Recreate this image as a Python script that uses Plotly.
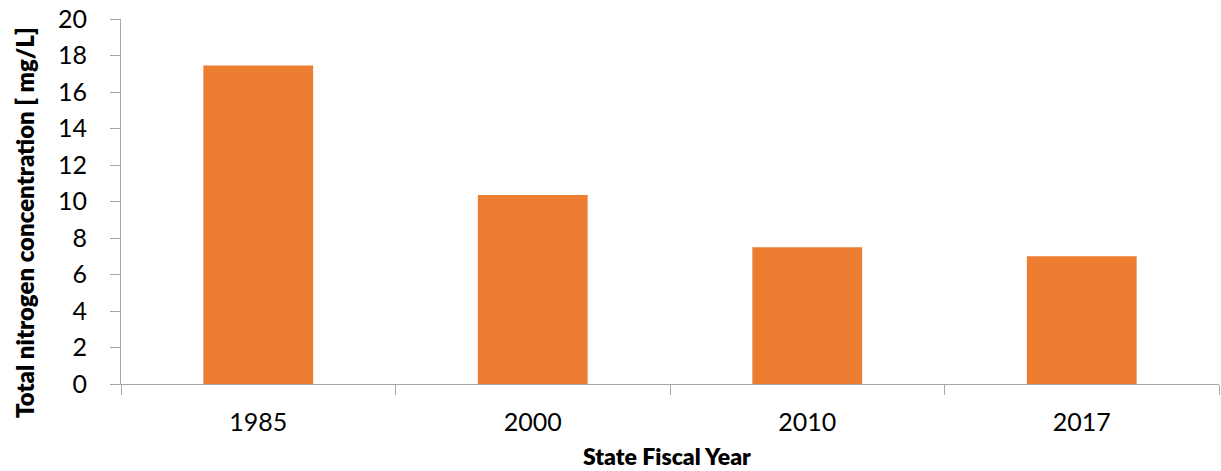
import plotly.graph_objects as go

years = ["1985", "2000", "2010", "2017"]
nitrogen = [17.45, 10.35, 7.5, 7.0]
y_ticks = [0, 2, 4, 6, 8, 10, 12, 14, 16, 18, 20]

bar_color = "#ED7D31"
axis_color = "#A6A6A6"
font_family = "Lato, 'Open Sans', sans-serif"

fig = go.Figure(
    go.Bar(
        x=years,
        y=nitrogen,
        marker=dict(color=bar_color, line=dict(width=0)),
        width=0.4,
    )
)

title_font = dict(size=24, family=font_family, color="#000000", weight=800)

fig.update_layout(
    width=1221,
    height=471,
    margin=dict(l=121, r=2, t=19, b=87),
    paper_bgcolor="white",
    plot_bgcolor="white",
    showlegend=False,
    font=dict(family=font_family, color="#000000"),
    annotations=[
        dict(
            text="Total nitrogen concentration [ mg/L]",
            xref="paper", yref="paper",
            x=-0.0883, y=0.441,
            xanchor="center", yanchor="middle",
            textangle=-90, showarrow=False,
            font=title_font,
        ),
        dict(
            text="State Fiscal Year",
            xref="paper", yref="paper",
            x=0.497, y=-0.198,
            xanchor="center", yanchor="middle",
            showarrow=False,
            font=dict(title_font, size=23),
        ),
    ],
)

fig.update_xaxes(
    type="category",
    showline=True, linecolor=axis_color, linewidth=1,
    ticks="outside", tickson="boundaries", ticklen=10,
    tickcolor=axis_color, tickwidth=1,
    tickfont=dict(size=25, family=font_family, color="#000000"),
    ticklabelstandoff=16,
    showgrid=False, zeroline=False,
)

fig.update_yaxes(
    range=[0, 20],
    tickvals=y_ticks,
    showline=True, linecolor=axis_color, linewidth=1,
    ticks="outside", ticklen=10, tickcolor=axis_color, tickwidth=1,
    tickfont=dict(size=25, family=font_family, color="#000000"),
    ticklabelstandoff=18,
    showgrid=False, zeroline=False,
)

fig.write_html("out.html")
